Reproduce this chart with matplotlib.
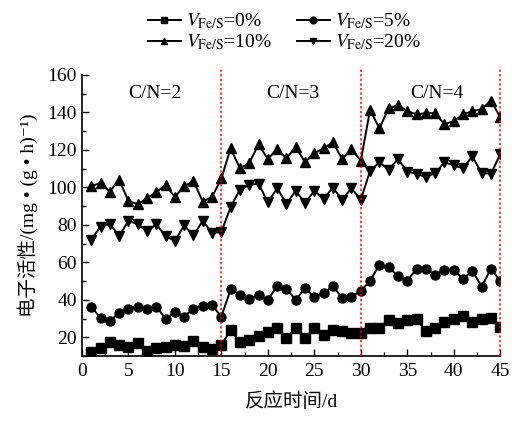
import matplotlib
matplotlib.use("Agg")
import matplotlib.pyplot as plt
import numpy as np

plt.rcParams['font.family'] = ['Liberation Serif', 'Noto Sans CJK SC', 'DejaVu Sans']
plt.rcParams['mathtext.fontset'] = 'stix'
plt.rcParams['font.size'] = 14

days = np.arange(1, 46)

# electron activity, mg/(g*h)
fe0 = [12.3, 14.4, 17.6, 15.9, 15.1, 16.9, 12.7, 14.1, 15.1, 16.2, 15.5, 18.0, 15.1, 13.7, 16.0,
       24.0, 17.6, 18.7, 20.5, 23.0, 25.1, 19.9, 24.8, 19.9, 24.8, 21.2, 23.7, 23.4, 22.2, 22.5,
       24.8, 25.1, 29.4, 27.6, 29.4, 30.0, 23.3, 24.8, 28.3, 30.0, 31.4, 28.3, 29.7, 30.4, 25.4]
fe5 = [36.4, 30.4, 28.6, 33.2, 35.4, 36.4, 35.0, 36.4, 30.0, 33.6, 31.1, 35.4, 36.8, 37.1, 31.1,
       45.6, 42.8, 40.3, 42.8, 40.0, 47.4, 46.0, 40.0, 46.3, 41.7, 43.5, 47.4, 41.0, 41.7, 44.7,
       50.2, 58.7, 57.3, 52.7, 50.2, 56.6, 56.6, 53.4, 56.2, 55.9, 51.3, 55.5, 47.1, 56.6, 50.2]
fe10 = [100.6, 102.4, 97.8, 104.1, 92.8, 91.0, 94.2, 97.4, 101.3, 94.9, 100.6, 103.4, 92.4, 94.9, 104.8,
        120.8, 110.2, 113.0, 122.9, 115.1, 120.5, 115.5, 121.6, 113.4, 118.3, 120.8, 124.0, 115.1, 120.5, 114.2,
        141.4, 131.5, 142.1, 143.9, 140.7, 138.9, 139.6, 139.6, 133.6, 135.4, 138.9, 140.7, 141.7, 146.3, 137.5]
fe20 = [72.2, 79.0, 80.7, 74.0, 82.2, 80.4, 76.5, 80.4, 74.0, 71.5, 79.7, 74.4, 82.2, 75.8, 76.2,
        89.6, 98.8, 101.3, 102.0, 92.1, 99.5, 91.4, 98.1, 91.8, 98.1, 93.9, 99.9, 93.5, 99.5, 93.5,
        108.8, 113.4, 109.5, 115.1, 108.4, 107.3, 105.5, 107.6, 113.4, 111.7, 110.2, 116.6, 107.6, 107.3, 117.6]

series = [fe0, fe10, fe5, fe20]
markers = ['s', '^', 'o', 'v']
labels = [r'$V_{\rm Fe/S}$=0%', r'$V_{\rm Fe/S}$=10%', r'$V_{\rm Fe/S}$=5%', r'$V_{\rm Fe/S}$=20%']

phase_ends = [15, 30, 45]
phase_labels = ['C/N=2', 'C/N=3', 'C/N=4']
phase_label_x = [7.9, 22.7, 38.2]

fig = plt.figure(figsize=(5.12, 4.23), dpi=100)
ax = fig.add_axes([0.160, 0.158, 0.817, 0.665])

handles = []
for y, m, lab in zip(series, markers, labels):
    h, = ax.plot(days, y, color='black', lw=1.4, marker=m, markersize=6.5, label=lab)
    handles.append(h)

for xe in phase_ends:
    ax.vlines(xe, 10, 164, colors='red', linestyles=(0, (1.5, 1.5)), lw=1.1, clip_on=False, zorder=5)

for xt, t in zip(phase_label_x, phase_labels):
    ax.text(xt, 150, t, ha='center', va='center', fontsize=14)

ax.set_xlim(0, 45)
ax.set_ylim(10, 160)
ax.set_xticks(np.arange(0, 46, 5))
ax.set_xticks(np.arange(0, 46, 2.5), minor=True)
ax.set_yticks(np.arange(20, 161, 20))
ax.set_yticks(np.arange(10, 161, 10), minor=True)
ax.tick_params(which='both', direction='in', labelsize=14, width=1)
ax.tick_params(which='major', length=5)
ax.tick_params(which='minor', length=3)
ax.tick_params(axis='x', pad=5)
for s in ['top', 'right']:
    ax.spines[s].set_visible(False)
for s in ['left', 'bottom']:
    ax.spines[s].set_linewidth(1.2)

ax.set_xlabel('反应时间/d', fontsize=14, labelpad=9)
ax.set_ylabel('电子活性/(mg • (g • h)⁻¹)', fontsize=14, labelpad=7)

fig.legend(handles=handles, loc='upper center', bbox_to_anchor=(0.555, 1.0), ncol=2,
           frameon=False, fontsize=14, handlelength=1.7, handletextpad=0.25,
           columnspacing=1.3, labelspacing=0.05, borderaxespad=0.2, markerscale=0.75)

fig.savefig('out.png', dpi=100)
